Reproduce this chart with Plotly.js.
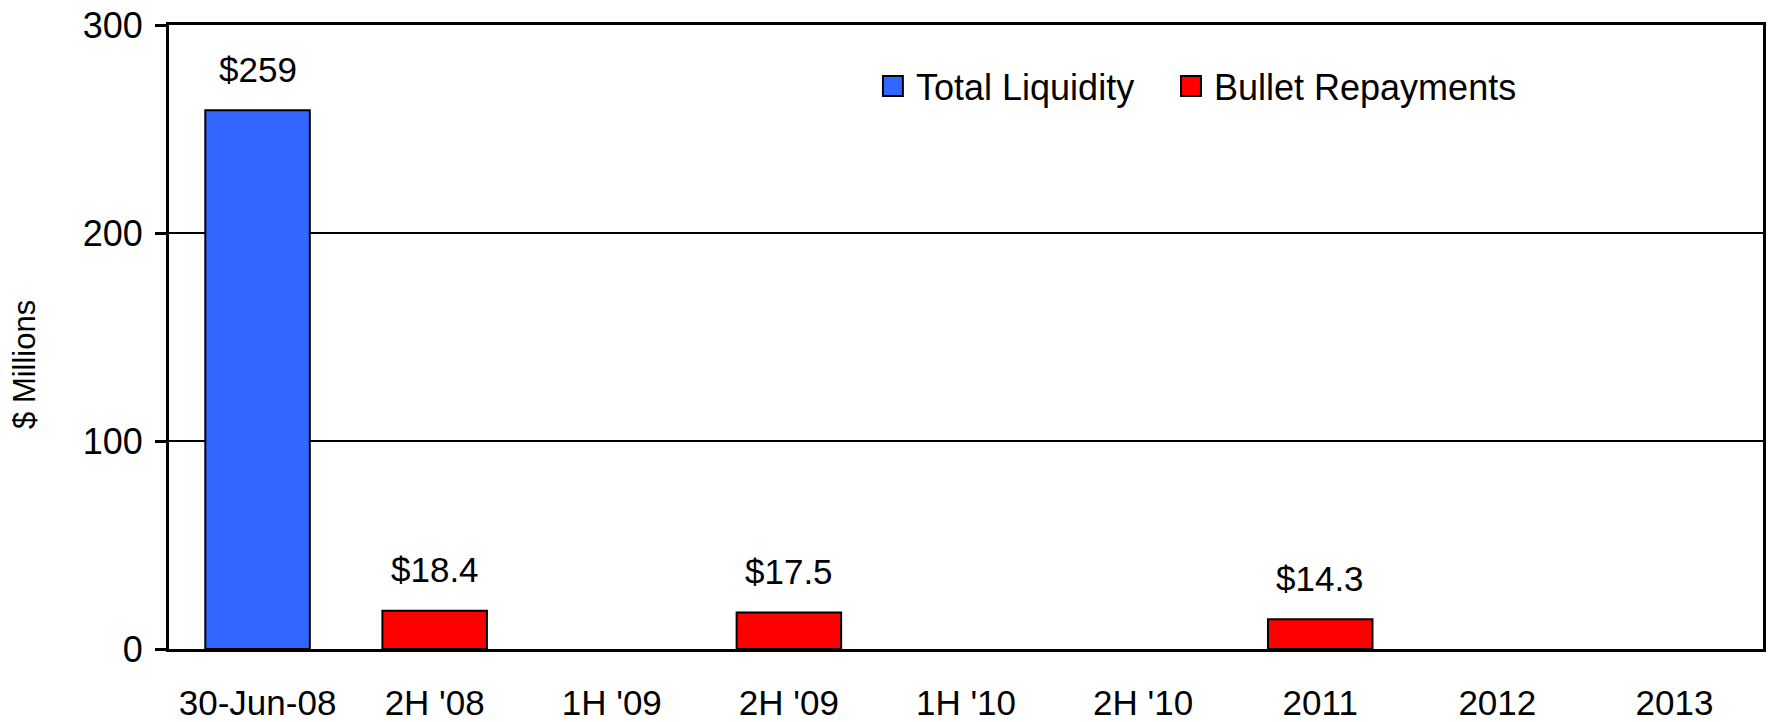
<!DOCTYPE html>
<html>
<head>
<meta charset="utf-8">
<script src="https://cdn.plot.ly/plotly-3.0.1.min.js"></script>
<style>html,body{margin:0;padding:0;background:#fff;}#chart{width:1771px;height:722px;}</style>
</head>
<body>
<div id="chart"></div>
<script>
const categories = ["30-Jun-08", "2H '08", "1H '09", "2H '09", "1H '10", "2H '10", "2011", "2012", "2013"];
const totalLiquidity = [259, null, null, null, null, null, null, null, null];
const bulletRepayments = [null, 18.4, null, 17.5, null, null, 14.3, null, null];
const seriesNames = ["Total Liquidity", "Bullet Repayments"];
const seriesColors = ["#3366FF", "#FF0000"];
const yTicks = [0, 100, 200, 300];
const boundaryTicks = [-0.5, 1.5, 3.5, 5.5, 7.5];
const yTitle = "$ Millions";

const FONT = "Liberation Sans, Arial, sans-serif";
const FS = 35;

function barTrace(vals, i) {
  return {
    type: "bar", x: categories, y: vals, name: seriesNames[i],
    width: 0.59, showlegend: false, hoverinfo: "x+y",
    marker: {color: seriesColors[i], line: {color: "#000", width: 2}}
  };
}

const traces = [barTrace(totalLiquidity, 0), barTrace(bulletRepayments, 1)];

const annotations = [];
[totalLiquidity, bulletRepayments].forEach(vals => {
  vals.forEach((v, i) => {
    if (v !== null) {
      annotations.push({
        x: i, y: v, xref: "x", yref: "y",
        text: "$" + v, showarrow: false, yshift: 41, yanchor: "middle",
        font: {family: FONT, size: FS, color: "#000"}
      });
    }
  });
});

// Y axis title placed as annotation
annotations.push({xref: "paper", yref: "paper", x: -0.091, y: 0.4567,
  xanchor: "center", yanchor: "middle", textangle: -90, showarrow: false,
  text: yTitle, font: {family: FONT, size: 31, color: "#000"}});

// Manual legend
const legendX = [0.4479, 0.6349];
const shapes = [];
seriesNames.forEach((n, i) => {
  shapes.push({type: "rect", xref: "paper", yref: "paper",
    x0: legendX[i], x1: legendX[i] + 0.0125, y0: 0.8862, y1: 0.9183,
    fillcolor: seriesColors[i], line: {color: "#000", width: 2}});
  annotations.push({xref: "paper", yref: "paper", x: legendX[i] + 0.0195, y: 0.9006,
    xanchor: "left", yanchor: "middle", showarrow: false, text: n,
    font: {family: FONT, size: 36, color: "#000"}});
});

const layout = {
  width: 1771, height: 722,
  margin: {l: 169, r: 8, t: 25, b: 73},
  paper_bgcolor: "#fff", plot_bgcolor: "#fff",
  barmode: "overlay",
  showlegend: false,
  font: {family: FONT, size: FS, color: "#000"},
  xaxis: {
    type: "category", range: [-0.5, 8.5],
    showline: true, linecolor: "#000", linewidth: 3, mirror: true,
    ticks: "", showgrid: false, zeroline: false,
    tickfont: {family: FONT, size: FS, color: "#000"},
    ticklabelstandoff: 21
  },
  xaxis2: {
    overlaying: "x", anchor: "y", side: "bottom", range: [-0.5, 8.5],
    tickmode: "array", tickvals: boundaryTicks, ticks: "outside", ticklen: 14,
    tickwidth: 3, tickcolor: "#000", showticklabels: false, showgrid: false,
    zeroline: false, showline: false
  },
  yaxis: {
    range: [0, 300], tickmode: "array", tickvals: yTicks,
    showline: true, linecolor: "#000", linewidth: 3, mirror: true,
    ticks: "outside", ticklen: 11, tickwidth: 3, tickcolor: "#000",
    showgrid: true, gridcolor: "#000", gridwidth: 2, zeroline: false,
    tickfont: {family: FONT, size: 36, color: "#000"},
    ticklabelstandoff: 5
  },
  shapes: shapes,
  annotations: annotations
};

Plotly.newPlot("chart", traces, layout, {displayModeBar: false, staticPlot: true});
</script>
</body>
</html>
